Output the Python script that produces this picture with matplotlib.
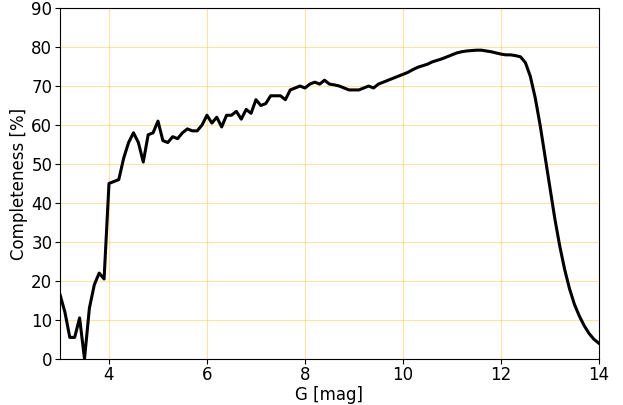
import numpy as np
import matplotlib
matplotlib.use("Agg")
import matplotlib.pyplot as plt

mag = [round(3.0 + 0.1*i, 1) for i in range(111)]
completeness = [16.5, 12, 5.5, 5.5, 10.5, 0, 13, 19, 22, 20.5,
    45, 45.5, 46, 51.5, 55.5, 58, 55.5, 50.5, 57.5, 58,
    61, 56, 55.5, 57, 56.5, 58, 59, 58.5, 58.5, 60,
    62.5, 60.5, 62, 59.5, 62.5, 62.5, 63.5, 61.5, 64, 63,
    66.5, 65, 65.5, 67.5, 67.5, 67.5, 66.5, 69, 69.5, 70,
    69.5, 70.5, 71, 70.5, 71.5, 70.5, 70.3, 70, 69.5, 69,
    69, 69, 69.5, 70, 69.5, 70.5, 71, 71.5, 72, 72.5,
    73, 73.5, 74.2, 74.8, 75.2, 75.6, 76.2, 76.6, 77, 77.5,
    78, 78.5, 78.8, 79, 79.1, 79.2, 79.2, 79, 78.8, 78.5,
    78.2, 78, 78, 77.8, 77.5, 76, 72.5, 67, 60, 52,
    44, 36, 29, 23, 18, 14, 11, 8.5, 6.5, 5, 4]

fig = plt.figure(figsize=(6.23, 4.05), dpi=100)
ax = fig.add_axes([0.0963, 0.114, 0.865, 0.866])
ax.plot(mag, completeness, color='black', lw=2.2)
ax.set_xlim(3, 14)
ax.set_ylim(0, 90)
ax.set_yticks(range(0, 91, 10))
ax.grid(True, color='#ffc640', alpha=0.5, lw=0.8)
ax.tick_params(labelsize=12, pad=2)
ax.set_xlabel('G [mag]', fontsize=12, labelpad=1)
ax.set_ylabel('Completeness [%]', fontsize=12, labelpad=2)
fig.savefig('out.png', dpi=100)
